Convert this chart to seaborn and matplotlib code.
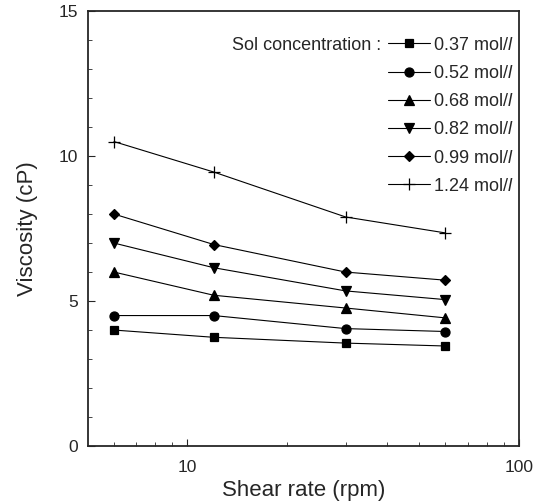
import numpy as np
import pandas as pd
import seaborn as sns
import matplotlib.pyplot as plt
from matplotlib.ticker import FixedLocator, NullFormatter, MultipleLocator

# shear rates (rpm) and viscosity readings (cP) per sol concentration
shear_rate = [6, 12, 30, 60]
labels = ["0.37 mol/$\\mathit{l}$", "0.52 mol/$\\mathit{l}$", "0.68 mol/$\\mathit{l}$",
          "0.82 mol/$\\mathit{l}$", "0.99 mol/$\\mathit{l}$", "1.24 mol/$\\mathit{l}$"]
visc_037 = [4.0, 3.75, 3.55, 3.45]
visc_052 = [4.5, 4.5, 4.05, 3.95]
visc_068 = [6.0, 5.2, 4.76, 4.42]
visc_082 = [7.0, 6.15, 5.35, 5.05]
visc_099 = [8.0, 6.95, 6.0, 5.72]
visc_124 = [10.5, 9.45, 7.9, 7.35]
series = [visc_037, visc_052, visc_068, visc_082, visc_099, visc_124]
marker_list = ["s", "o", "^", "v", "D", "+"]
marker_size = {"s": 5.5, "o": 6.5, "^": 7.5, "v": 7.5, "D": 5.5, "+": 8}

sns.set_style("ticks")
plt.rcParams["font.family"] = ["Liberation Sans", "DejaVu Sans"]
plt.rcParams["mathtext.fontset"] = "custom"
plt.rcParams["mathtext.it"] = "Liberation Sans:italic"
plt.rcParams["mathtext.rm"] = "Liberation Sans"

fig = plt.figure(figsize=(5.45, 5.04), dpi=100)
ax = fig.add_axes([0.161, 0.115, 0.791, 0.863])

# one seaborn call per series (filled and line markers can't share a style map)
for lab, vals, mk in zip(labels, series, marker_list):
    d = pd.DataFrame({"rate": shear_rate, "visc": vals})
    sns.lineplot(data=d, x="rate", y="visc", color="black", marker=mk,
                 markersize=marker_size[mk], markeredgecolor="black",
                 markeredgewidth=0.9, linewidth=0.8, label=lab, ax=ax)

ax.set_xscale("log")
ax.set_xlim(5, 100)
ax.set_ylim(0, 15)
ax.set_xticks([10, 100])
ax.set_xticklabels(["10", "100"])
ax.xaxis.set_minor_locator(FixedLocator([6, 7, 8, 9, 20, 30, 40, 50, 60, 70, 80, 90]))
ax.xaxis.set_minor_formatter(NullFormatter())
ax.set_yticks([0, 5, 10, 15])
ax.yaxis.set_minor_locator(MultipleLocator(1))
ax.tick_params(which="both", direction="in", top=False, right=False, labelsize=12.5)
ax.tick_params(axis="x", pad=10)
ax.tick_params(axis="y", pad=7)
ax.tick_params(which="major", length=5)
ax.tick_params(which="minor", length=3)
for s in ax.spines.values():
    s.set_linewidth(1.3)

ax.set_xlabel("Shear rate (rpm)", fontsize=16, labelpad=4)
ax.set_ylabel("Viscosity (cP)", fontsize=16, labelpad=15)

leg = ax.legend(loc="upper right", frameon=False, fontsize=13, handlelength=2.3,
                handletextpad=0.2, labelspacing=0.62, borderaxespad=0.0,
                borderpad=0.1, bbox_to_anchor=(0.992, 0.945))
ax.text(0.68, 0.921, "Sol concentration :", transform=ax.transAxes,
        ha="right", va="center", fontsize=13)

fig.savefig("out.png", dpi=100)
